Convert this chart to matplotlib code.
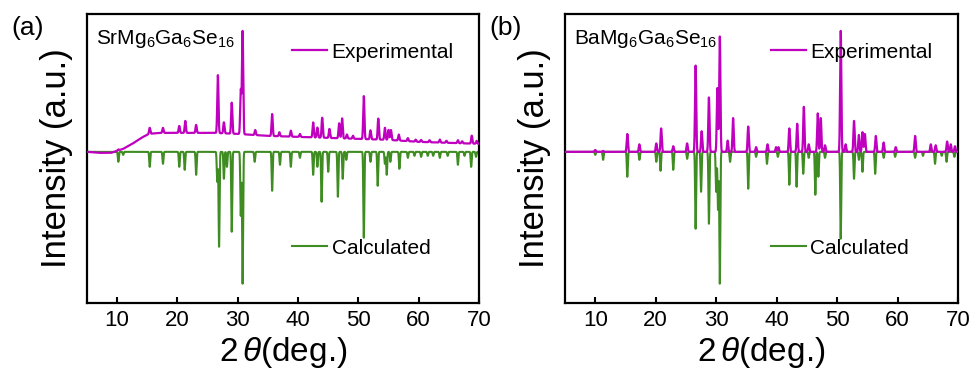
import matplotlib
matplotlib.use("Agg")
import matplotlib.pyplot as plt
import numpy as np

plt.rcParams['font.family'] = ['Liberation Sans', 'DejaVu Sans']
plt.rcParams['mathtext.fontset'] = 'custom'
plt.rcParams['mathtext.rm'] = 'Liberation Sans'
plt.rcParams['mathtext.it'] = 'Liberation Sans:italic'

# ---- panel (a): SrMg6Ga6Se16 ----
a_exp_pos = [10.2, 15.4, 17.6, 20.3, 21.3, 23.1, 26.7, 27.7, 29.0, 30.5, 30.8,
             32.9, 35.7, 36.9, 38.8, 40.3, 42.5, 43.2, 44.0, 45.2, 46.8, 47.3,
             48.1, 49.1, 50.9, 52.0, 53.3, 54.4, 55.0, 55.4, 56.7, 58.2, 59.5,
             60.4, 61.8, 63.5, 64.6, 66.5, 67.2, 68.8, 69.6]
a_exp_int = [1, 6, 5, 7, 12, 8, 58, 11, 31, 44, 103,
             5, 22, 4, 6, 3, 15, 10, 20, 9, 15, 20,
             4, 3, 43, 9, 21, 12, 10, 10, 6, 3, 2,
             2, 2, 3, 2, 3, 2, 8, 3]
a_bg_pos = [5, 7, 9, 9.5, 11, 12.5, 14, 15.3, 17, 26, 30, 35, 40, 45, 50, 55, 60, 65, 70]
a_bg_int = [0, -1, -1, 0, 3, 8, 14, 18, 19, 19, 18, 16, 15, 14, 13, 12, 10, 9, 8]

a_cal_pos = [10.2, 11.0, 15.4, 17.6, 20.3, 21.2, 23.1, 26.6, 26.9, 27.7, 28.2,
             29.0, 30.5, 30.8, 32.8, 35.7, 37.0, 38.8, 40.3, 42.5, 43.2, 43.9,
             45.0, 46.6, 47.4, 48.0, 50.9, 52.0, 53.2, 54.4, 54.7, 55.3, 56.8,
             58.2, 59.3, 60.4, 61.5, 62.4, 63.5, 64.8, 66.5, 67.6, 68.7, 69.5]
a_cal_int = [10, 3, 15, 12, 15, 18, 23, 30, 95, 27, 15,
             80, 64, 132, 10, 39, 13, 15, 6, 23, 15, 50,
             20, 45, 27, 8, 86, 10, 34, 12, 23, 10, 17,
             6, 4, 5, 4, 4, 6, 4, 13, 4, 15, 5]

# ---- panel (b): BaMg6Ga6Se16 ----
b_exp_pos = [10.0, 11.3, 15.3, 17.3, 20.1, 20.9, 22.9, 25.2, 26.6, 27.6, 28.8,
             30.2, 30.6, 31.9, 32.8, 35.3, 36.6, 38.5, 39.9, 40.3, 42.1, 43.4,
             44.5, 45.3, 46.8, 47.3, 48.0, 50.6, 51.4, 52.8, 53.6, 54.2, 54.6,
             56.4, 57.7, 59.7, 62.9, 65.5, 66.3, 68.2, 68.8, 69.5]
b_exp_int = [2, 1, 19, 8, 9, 25, 6, 9, 92, 22, 58,
             68, 123, 12, 36, 27, 5, 8, 5, 5, 25, 30,
             48, 8, 41, 36, 7, 129, 8, 33, 18, 21, 19,
             17, 10, 5, 17, 8, 7, 11, 8, 6]

b_cal_pos = [10.0, 11.3, 15.3, 17.3, 20.1, 20.8, 22.9, 25.2, 26.6, 27.5, 28.8,
             30.0, 30.3, 30.6, 32.3, 35.3, 36.6, 38.4, 40.2, 42.1, 43.3, 44.4,
             45.3, 46.4, 46.9, 48.0, 50.6, 52.8, 53.6, 54.2, 56.3, 57.7, 59.6,
             62.9, 64.2, 66.2, 67.3, 68.1, 69.4]
b_cal_int = [3, 8, 25, 8, 10, 19, 18, 7, 77, 40, 72,
             40, 58, 132, 10, 37, 5, 12, 5, 33, 35, 22,
             6, 43, 25, 6, 87, 27, 8, 20, 22, 6, 5,
             6, 4, 12, 4, 10, 5]

x = np.arange(5, 70.001, 0.01)


def profile(pos, inten, sigma):
    y = np.zeros_like(x)
    for p, h in zip(pos, inten):
        y += h * np.exp(-0.5 * ((x - p) / sigma) ** 2)
    return y


exp_a = profile(a_exp_pos, a_exp_int, 0.1) + np.interp(x, a_bg_pos, a_bg_int)
exp_b = profile(b_exp_pos, b_exp_int, 0.1)
cal_a = profile(a_cal_pos, a_cal_int, 0.08)
cal_b = profile(b_cal_pos, b_cal_int, 0.08)

magenta = '#BF00BF'
green = '#3F8C22'

fig = plt.figure(figsize=(9.73, 3.74), dpi=100)
ax1 = fig.add_axes([0.0894, 0.1898, 0.4029, 0.7728])
ax2 = fig.add_axes([0.5807, 0.1898, 0.4039, 0.7728])

panels = [(ax1, exp_a, cal_a, 'SrMg$_6$Ga$_6$Se$_{16}$', '(a)'),
          (ax2, exp_b, cal_b, 'BaMg$_6$Ga$_6$Se$_{16}$', '(b)')]

for ax, ye, yc, name, tag in panels:
    l_cal, = ax.plot(x, -yc / yc.max() * 1.09, color=green, lw=1.5, zorder=2)
    l_exp, = ax.plot(x, ye / ye.max(), color=magenta, lw=1.6, zorder=3)
    ax.set_xlim(5, 70)
    ax.set_ylim(-1.25, 1.14)
    ax.set_xticks([10, 20, 30, 40, 50, 60, 70])
    ax.set_yticks([])
    ax.tick_params(axis='x', direction='in', length=4, width=1.5, labelsize=16, pad=5)
    for s in ax.spines.values():
        s.set_linewidth(1.6)
    ax.set_xlabel(r'2$\,\it{\theta}$(deg.)', fontsize=24)
    ax.xaxis.set_label_coords(0.5, -0.11)
    ax.set_ylabel('Intensity (a.u.)', fontsize=25)
    ax.yaxis.set_label_coords(-0.036, 0.5)
    ax.text(0.023, 0.95, name, transform=ax.transAxes, fontsize=15, va='top', ha='left')
    leg1 = ax.legend([l_exp], ['Experimental'], loc='center left',
                     bbox_to_anchor=(0.523, 0.868), frameon=False, fontsize=15,
                     handlelength=1.7, handletextpad=0.2, borderpad=0, borderaxespad=0)
    ax.add_artist(leg1)
    ax.legend([l_cal], ['Calculated'], loc='center left',
              bbox_to_anchor=(0.523, 0.19), frameon=False, fontsize=15,
              handlelength=1.7, handletextpad=0.2, borderpad=0, borderaxespad=0)
    fig.text(ax.get_position().x0 - 0.061, 0.925, tag, fontsize=19, ha='center', va='center')

fig.savefig('out.png', dpi=100)
